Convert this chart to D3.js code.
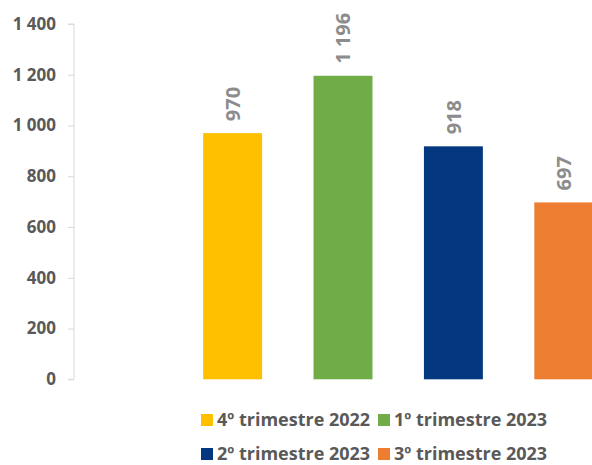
<!DOCTYPE html>
<html>
<head>
<meta charset="utf-8">
<script src="https://cdn.jsdelivr.net/npm/d3@7"></script>
<style>
  body { margin: 0; background: #fff; }
  text { font-family: "Open Sans", Lato, sans-serif; font-weight: bold; }
</style>
</head>
<body>
<svg id="chart" width="592" height="465"></svg>
<script>
const quarters = ["4º trimestre 2022", "1º trimestre 2023", "2º trimestre 2023", "3º trimestre 2023"];
const values = [970, 1196, 918, 697];
const colors = ["#FFC000", "#70AD47", "#03377F", "#ED7D31"];
const yTicks = [0, 200, 400, 600, 800, 1000, 1200, 1400];

const svg = d3.select("#chart");
const data = quarters.map((q, i) => ({ q, v: values[i], c: colors[i] }));

const fmt = v => d3.format(",")(v).replace(/,/g, " ");

// empty slot on the left, as in the original sheet
const x = d3.scaleBand()
  .domain(["", ...quarters])
  .range([67, 619])
  .paddingInner(0.466)
  .paddingOuter(0.233);

const y = d3.scaleLinear()
  .domain([0, 1400])
  .range([379.3, 24]);

// y axis
const yAxis = svg.append("g")
  .attr("transform", "translate(74,0)")
  .call(d3.axisLeft(y).tickValues(yTicks).tickSize(6).tickPadding(12).tickFormat(fmt));
yAxis.select(".domain").attr("stroke", "#D9D9D9").attr("d", `M-6,${y(1400)}H0V${y(0)}H-6`);
yAxis.selectAll(".tick line").attr("stroke", "#D9D9D9");
yAxis.selectAll(".tick text")
  .attr("fill", "#595959")
  .style("font-size", "17px");

// bars
svg.selectAll("rect.bar")
  .data(data)
  .join("rect")
  .attr("class", "bar")
  .attr("x", d => x(d.q))
  .attr("y", d => y(d.v))
  .attr("width", x.bandwidth())
  .attr("height", d => y(0) - y(d.v))
  .attr("fill", d => d.c);

// value labels, rotated
svg.selectAll("text.lbl")
  .data(data)
  .join("text")
  .attr("class", "lbl")
  .attr("transform", d => `translate(${x(d.q) + x.bandwidth() / 2},${y(d.v) - 12}) rotate(-90)`)
  .attr("dy", "0.36em")
  .attr("fill", "#8C8C8C")
  .style("font-size", "20px")
  .text(d => fmt(d.v));

// legend, two columns
const legX = [201, 378];
const legY = [420, 454];
const leg = svg.selectAll("g.leg")
  .data(data)
  .join("g")
  .attr("class", "leg")
  .attr("transform", (d, i) => `translate(${legX[i % 2]},${legY[Math.floor(i / 2)]})`);
leg.append("rect")
  .attr("x", 0).attr("y", -6)
  .attr("width", 12).attr("height", 12)
  .attr("fill", d => d.c);
leg.append("text")
  .attr("x", 16)
  .attr("dy", "0.36em")
  .attr("fill", "#595959")
  .style("font-size", "18px")
  .text(d => d.q);
</script>
</body>
</html>
